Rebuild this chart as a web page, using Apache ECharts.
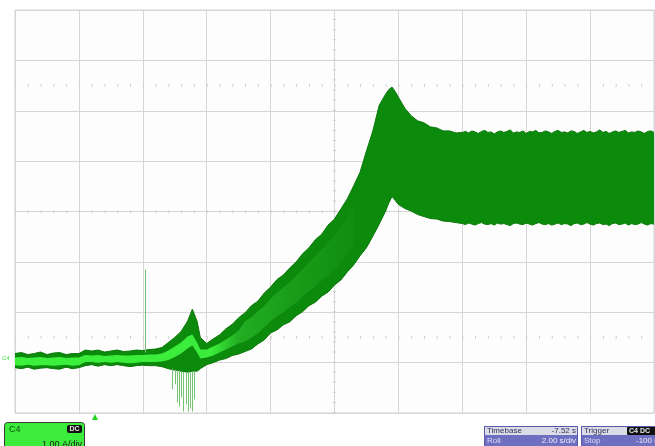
<!DOCTYPE html>
<html>
<head>
<meta charset="utf-8">
<script src="https://cdn.jsdelivr.net/npm/echarts@6/dist/echarts.min.js"></script>
<style>
  html, body { margin: 0; padding: 0; background: #ffffff; }
  #chart { width: 655px; height: 446px; }
</style>
</head>
<body>
<div id="chart"></div>
<script>
// Channel C4 trace, roll mode, 2 s/div horizontally, values in vertical divisions.
// Envelope of the fast-switching current (top and bottom edges).
const t = [0.0,0.2,0.4,0.6,0.8,1.0,1.2,1.4,1.6,1.8,2.0,2.2,2.4,2.6,2.8,3.0,3.2,3.4,3.6,3.8,4.0,4.2,4.4,
  4.6,4.8,5.0,5.2,5.4,5.55,5.7,5.8,
  6.0,6.2,6.4,6.6,6.8,7.0,7.2,7.4,7.6,7.8,8.0,8.2,8.4,8.6,8.8,9.0,9.2,9.4,9.6,9.8,10.0,10.2,10.4,10.6,10.8,11.0,11.2,11.4,11.6,
  11.7,11.8,11.9,
  12.0,12.2,12.4,12.6,12.8,13.0,13.2,13.4,13.6,13.8,
  14.0,14.1,14.2,14.3,14.4,14.5,14.6,14.7,14.8,14.9,
  15.0,15.1,15.2,15.3,15.4,15.5,15.6,15.7,15.8,15.9,
  16.0,16.1,16.2,16.3,16.4,16.5,16.6,16.7,16.8,16.9,
  17.0,17.1,17.2,17.3,17.4,17.5,17.6,17.7,17.8,17.9,
  18.0,18.1,18.2,18.3,18.4,18.5,18.6,18.7,18.8,18.9,
  19.0,19.1,19.2,19.3,19.4,19.5,19.6,19.7,19.8,19.9,
  20.0];

const envUpper = [-2.82,-2.80,-2.84,-2.82,-2.79,-2.84,-2.81,-2.80,-2.84,-2.82,-2.82,-2.75,-2.77,-2.75,-2.79,-2.77,-2.75,-2.78,-2.77,-2.75,-2.76,-2.74,-2.73,
  -2.70,-2.60,-2.50,-2.38,-2.18,-1.94,-2.18,-2.50,
  -2.62,-2.53,-2.45,-2.33,-2.24,-2.11,-2.01,-1.87,-1.78,-1.62,-1.50,-1.35,-1.26,-1.12,-1.00,-0.84,-0.72,-0.56,-0.45,-0.27,-0.15,0.05,0.25,0.51,0.78,1.20,1.60,2.11,2.33,
  2.42,2.47,2.38,
  2.27,2.05,1.90,1.80,1.76,1.68,1.66,1.60,1.60,1.56,
  1.57,1.59,1.56,1.60,1.58,1.55,1.59,1.61,1.57,1.58,
  1.54,1.58,1.60,1.57,1.59,1.62,1.56,1.58,1.57,1.60,
  1.55,1.59,1.58,1.61,1.56,1.57,1.60,1.58,1.55,1.59,
  1.61,1.57,1.58,1.56,1.60,1.59,1.55,1.58,1.61,1.57,
  1.59,1.56,1.58,1.62,1.57,1.59,1.55,1.58,1.60,1.57,
  1.59,1.61,1.56,1.58,1.57,1.60,1.58,1.55,1.59,1.60,
  1.57];

const envLower = [-3.10,-3.12,-3.09,-3.13,-3.11,-3.10,-3.12,-3.13,-3.09,-3.12,-3.10,-3.06,-3.04,-3.07,-3.04,-3.06,-3.04,-3.06,-3.08,-3.06,-3.05,-3.06,-3.06,
  -3.08,-3.12,-3.15,-3.17,-3.19,-3.17,-3.17,-3.12,
  -3.04,-3.00,-2.95,-2.92,-2.86,-2.83,-2.78,-2.73,-2.63,-2.55,-2.41,-2.35,-2.25,-2.19,-2.07,-1.99,-1.87,-1.80,-1.68,-1.60,-1.46,-1.36,-1.20,-1.06,-0.88,-0.72,-0.49,-0.25,0.01,
  0.17,0.30,0.22,
  0.14,0.06,0.01,-0.06,-0.10,-0.14,-0.15,-0.19,-0.20,-0.22,
  -0.24,-0.26,-0.23,-0.25,-0.27,-0.24,-0.22,-0.25,-0.26,-0.24,
  -0.27,-0.23,-0.25,-0.24,-0.26,-0.28,-0.24,-0.23,-0.25,-0.26,
  -0.23,-0.25,-0.27,-0.24,-0.22,-0.25,-0.26,-0.24,-0.27,-0.25,
  -0.23,-0.26,-0.24,-0.25,-0.28,-0.24,-0.23,-0.26,-0.25,-0.22,
  -0.25,-0.27,-0.24,-0.23,-0.26,-0.25,-0.28,-0.24,-0.23,-0.26,
  -0.25,-0.23,-0.27,-0.24,-0.26,-0.25,-0.22,-0.25,-0.27,-0.24,
  -0.25];

// Brighter core of the trace (dense centre of the waveform).
const coreT = [0.0,0.2,0.4,0.6,0.8,1.0,1.2,1.4,1.6,1.8,2.0,2.2,2.4,2.6,2.8,3.0,3.2,3.4,3.6,3.8,4.0,4.2,4.4,
  4.6,4.8,5.0,5.2,5.4,5.55,5.7,5.8,
  6.0,6.2,6.4,6.6,6.8,7.0,7.2,7.4,7.6,7.8,8.0,8.2,8.4,8.6,8.8,9.0,9.2,9.4,9.6,9.8,10.0,10.2,10.4,10.6];
const coreUpper = [-2.90,-2.89,-2.91,-2.90,-2.89,-2.91,-2.90,-2.89,-2.91,-2.90,-2.90,-2.85,-2.86,-2.85,-2.87,-2.86,-2.85,-2.86,-2.86,-2.85,-2.85,-2.84,-2.84,
  -2.82,-2.76,-2.68,-2.60,-2.48,-2.44,-2.60,-2.74,
  -2.74,-2.68,-2.62,-2.54,-2.46,-2.36,-2.18,-2.10,-1.98,-1.87,-1.73,-1.61,-1.51,-1.41,-1.27,-1.15,-1.01,-0.89,-0.75,-0.62,-0.48,-0.32,-0.12,0.12];
const coreLower = [-3.05,-3.06,-3.04,-3.06,-3.05,-3.05,-3.06,-3.05,-3.04,-3.06,-3.05,-2.99,-2.99,-3.00,-2.99,-3.00,-2.99,-3.00,-3.01,-3.00,-2.99,-2.99,-2.99,
  -2.98,-2.95,-2.89,-2.82,-2.72,-2.66,-2.80,-2.92,
  -2.90,-2.86,-2.80,-2.74,-2.68,-2.62,-2.58,-2.50,-2.42,-2.30,-2.18,-2.08,-2.00,-1.90,-1.81,-1.69,-1.59,-1.49,-1.37,-1.27,-1.15,-1.01,-0.85,-0.67];

// Isolated glitches: time, start level, tip level.
const spikeT    = [4.06, 4.91, 5.00, 5.06, 5.13, 5.19, 5.25, 5.34, 5.41, 5.47, 5.53, 5.59];
const spikeBase = [-2.80,-3.12,-3.14,-3.15,-3.16,-3.17,-3.18,-3.19,-3.19,-3.19,-3.18,-3.17];
const spikeTip  = [-1.15,-3.53,-3.43,-3.79,-3.87,-3.69,-3.97,-3.83,-3.97,-3.91,-3.97,-3.73];

const chart = echarts.init(document.getElementById('chart'), null, { renderer: 'canvas' });

const triples = (xs, lo, hi) => xs.map((x, i) => [x, lo[i], hi[i]]);

// Draws a filled band between two edges as one polygon (all points go through api.coord).
function bandRenderer(fill, edge) {
  return function (params, api) {
    if (params.dataIndexInside !== 0) return null;
    const n = params.dataInsideLength;
    const top = [], bottom = [];
    for (let i = 0; i < n; i++) {
      const x = api.value(0, i);
      top.push(api.coord([x, api.value(2, i)]));
      bottom.push(api.coord([x, api.value(1, i)]));
    }
    const children = [{
      type: 'polygon',
      shape: { points: top.concat(bottom.slice().reverse()) },
      style: { fill: fill }
    }];
    if (edge) {
      children.push({ type: 'polyline', shape: { points: top }, style: { stroke: edge, lineWidth: 1, fill: null } });
      children.push({ type: 'polyline', shape: { points: bottom }, style: { stroke: edge, lineWidth: 1, fill: null } });
    }
    return { type: 'group', children: children };
  };
}

const tickDash = (len, gap) => ({ type: [len, gap], width: 3, color: '#cfcfcf', cap: 'butt' });

const option = {
  animation: false,
  backgroundColor: '#ffffff',
  grid: { left: 15, top: 10, width: 639, height: 403, show: true, borderColor: '#d2d2d2', borderWidth: 1, backgroundColor: '#fdfdfd' },
  xAxis: {
    type: 'value', min: 0, max: 20, interval: 2,
    axisLine: { show: false }, axisTick: { show: false }, axisLabel: { show: false },
    splitLine: { show: true, lineStyle: { color: '#d6d6d6', width: 1 } }
  },
  yAxis: {
    type: 'value', min: -4, max: 4, interval: 1,
    axisLine: { show: false }, axisTick: { show: false }, axisLabel: { show: false },
    splitLine: { show: true, lineStyle: { color: '#d6d6d6', width: 1 } }
  },
  series: [
    {
      // graticule centre and cursor lines with 1/5-division ticks
      type: 'line', data: [], symbol: 'none', z: 1,
      markLine: {
        z: 1, silent: true, symbol: ['none', 'none'], label: { show: false }, animation: false,
        data: [
          { yAxis: 0, lineStyle: tickDash(1, 11.78) },
          { yAxis: 2.5, lineStyle: tickDash(1, 11.78) },
          { yAxis: -2.5, lineStyle: tickDash(1, 11.78) },
          { xAxis: 10, lineStyle: tickDash(1, 9.075) }
        ]
      }
    },
    {
      type: 'custom', z: 2,
      data: triples(t, envLower, envUpper),
      encode: { x: 0, y: [1, 2] },
      renderItem: bandRenderer('#0b8a0b', '#0a780a')
    },
    {
      type: 'custom', z: 3,
      data: triples(coreT, coreLower, coreUpper),
      encode: { x: 0, y: [1, 2] },
      renderItem: bandRenderer(new echarts.graphic.LinearGradient(0, 0, 1, 0, [
        { offset: 0.0, color: '#3cf03c' },
        { offset: 0.58, color: '#3cec3c' },
        { offset: 0.66, color: '#22ad22' },
        { offset: 0.85, color: '#189a18' },
        { offset: 1.0, color: '#0f8d0f' }
      ]), null)
    },
    {
      type: 'custom', z: 4,
      data: triples(spikeT, spikeBase, spikeTip),
      encode: { x: 0, y: [1, 2] },
      renderItem: function (params, api) {
        const a = api.coord([api.value(0), api.value(1)]);
        const b = api.coord([api.value(0), api.value(2)]);
        return {
          type: 'line',
          shape: { x1: Math.round(a[0]) + 0.5, y1: a[1], x2: Math.round(a[0]) + 0.5, y2: b[1] },
          style: { stroke: '#74c474', lineWidth: 1 }
        };
      }
    }
  ],
  graphic: [
    // channel level marker
    { type: 'text', left: 2, top: 355, style: { text: 'C4', fill: '#3ee43e', font: '6px "Liberation Sans", Arial' } },
    // channel C4 readout
    { type: 'rect', shape: { x: 4.5, y: 422.5, width: 80, height: 30, r: 3 }, style: { fill: '#3cec3c', stroke: '#3a3a3a', lineWidth: 1 } },
    { type: 'text', x: 9, y: 425, style: { text: 'C4', fill: '#155015', font: '9px "Liberation Sans", Arial' } },
    { type: 'rect', shape: { x: 67, y: 425, width: 15, height: 8, r: 2 }, style: { fill: '#111111' } },
    { type: 'text', x: 74.5, y: 425.5, style: { text: 'DC', fill: '#e8e8e8', font: 'bold 7px "Liberation Sans", Arial', textAlign: 'center', align: 'center' } },
    { type: 'text', x: 82, y: 440, style: { text: '1.00 A/div', fill: '#1a1a1a', font: '9px "Liberation Sans", Arial', textAlign: 'right', align: 'right' } },
    // trigger position marker
    { type: 'polygon', shape: { points: [[92, 420], [98, 420], [95, 414]] }, style: { fill: '#25d025' } },
    // timebase readout
    { type: 'rect', shape: { x: 484.5, y: 426.5, width: 93, height: 24 }, style: { fill: '#6f6fc2', stroke: '#5858ac', lineWidth: 1 } },
    { type: 'rect', shape: { x: 485, y: 427, width: 92, height: 8 }, style: { fill: '#dcdce6' } },
    { type: 'text', x: 487, y: 427, style: { text: 'Timebase', fill: '#30305a', font: '8px "Liberation Sans", Arial' } },
    { type: 'text', x: 576, y: 427, style: { text: '-7.52 s', fill: '#30305a', font: '8px "Liberation Sans", Arial', textAlign: 'right', align: 'right' } },
    { type: 'text', x: 487, y: 437, style: { text: 'Roll', fill: '#dcdcf4', font: '8px "Liberation Sans", Arial' } },
    { type: 'text', x: 576, y: 437, style: { text: '2.00 s/div', fill: '#ececfa', font: '8px "Liberation Sans", Arial', textAlign: 'right', align: 'right' } },
    // trigger readout
    { type: 'rect', shape: { x: 581.5, y: 426.5, width: 80, height: 24 }, style: { fill: '#6f6fc2', stroke: '#5858ac', lineWidth: 1 } },
    { type: 'rect', shape: { x: 582, y: 427, width: 79, height: 8 }, style: { fill: '#dcdce6' } },
    { type: 'text', x: 584, y: 427, style: { text: 'Trigger', fill: '#30305a', font: '8px "Liberation Sans", Arial' } },
    { type: 'rect', shape: { x: 627, y: 427, width: 30, height: 8, r: 1 }, style: { fill: '#111111' } },
    { type: 'text', x: 629, y: 427.5, style: { text: 'C4 DC', fill: '#e8e8e8', font: 'bold 7px "Liberation Sans", Arial' } },
    { type: 'text', x: 584, y: 437, style: { text: 'Stop', fill: '#dcdcf4', font: '8px "Liberation Sans", Arial' } },
    { type: 'text', x: 636, y: 437, style: { text: '-100 mA', fill: '#ececfa', font: '8px "Liberation Sans", Arial' } }
  ]
};

chart.setOption(option);
</script>
</body>
</html>
